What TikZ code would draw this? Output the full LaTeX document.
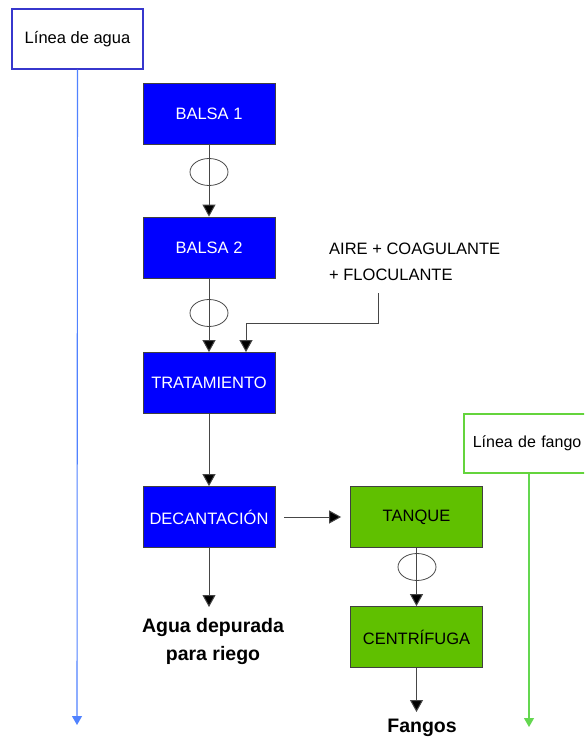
\documentclass[tikz,border=0pt]{standalone}
\usepackage{fontspec}
\setmainfont{Liberation Sans}
\usetikzlibrary{arrows.meta,shapes.geometric}
\definecolor{bluefill}{RGB}{0,0,255}
\definecolor{greenfill}{RGB}{96,192,0}
\definecolor{aguaborder}{RGB}{55,55,205}
\definecolor{agualine}{RGB}{80,130,255}
\definecolor{fangoborder}{RGB}{100,212,60}
\definecolor{fangoline}{RGB}{100,215,80}
\definecolor{conn}{RGB}{70,70,70}
\tikzset{
  procbox/.style={rectangle, draw=black!75, line width=0.8pt, minimum width=132pt, minimum height=61pt, inner sep=0pt, font=\fontsize{16.5}{19}\selectfont},
  bluebox/.style={procbox, fill=bluefill, text=white},
  greenbox/.style={procbox, fill=greenfill, text=black},
  valve/.style={ellipse, draw=black!70, line width=0.8pt, minimum width=38pt, minimum height=27pt, inner sep=0pt},
  arr/.style={draw=conn, line width=1pt, -{Triangle[width=13pt,length=12pt,fill=black]}},
  outlabel/.style={font=\bfseries\fontsize{19.5}{28}\selectfont, align=center, inner sep=0pt},
}
\begin{document}
\begin{tikzpicture}[x=1pt,y=-1pt]
\useasboundingbox (0,0) rectangle (584,738);
\clip (0,0) rectangle (584,738);
\fill[white] (0,0) rectangle (584,738);

% Linea de agua
\node[draw=aguaborder, line width=1.4pt, minimum width=131pt, minimum height=60pt, inner sep=0pt, font=\fontsize{16.5}{19}\selectfont] (agua) at (77.5,39) {Línea de agua};
\coordinate (aguaend) at (77,725);
\draw[agualine, line width=1.1pt, -{Triangle[width=10pt,length=9pt]}] (agua.south) -- (aguaend);

% Blue process boxes
\node[bluebox] (b1) at (209,113.5) {BALSA 1};
\node[bluebox] (b2) at (209,247.5) {BALSA 2};
\node[bluebox] (trat) at (209,383) {TRATAMIENTO};
\node[bluebox] (dec) at (209,517) {DECANTACIÓN};

% Green boxes
\node[greenbox] (tanq) at (416.5,517) {TANQUE};
\node[greenbox] (cent) at (416.5,637) {CENTRÍFUGA};

% valves
\node[valve] (v1) at (209,172) {};
\node[valve] (v2) at (209,313) {};
\node[valve] (v3) at (417,567) {};

% connectors
\draw[arr] (b1.south) -- (b2.north);
\draw[arr] (b2.south) -- (trat.north);
\draw[arr] (trat.south) -- (dec.north);
\draw[arr] (tanq.south) -- (cent.north);
\draw[arr, shorten <=9pt, shorten >=9pt] (dec.east) -- (tanq.west);

% aire + coagulante
\node[anchor=north west, align=left, inner sep=0pt, font=\fontsize{16.5}{26}\selectfont] (aire) at (329,243) {AIRE + COAGULANTE\\+ FLOCULANTE};
\coordinate (aireb) at (378,293);
\coordinate (bend) at (246,323);
\draw[arr] (aireb) |- (bend) -- (bend |- trat.north);

% outputs
\node[outlabel, anchor=north] (depur) at (213,618) {Agua depurada\\para riego};
\draw[arr, shorten >=11pt] (dec.south) -- (dec.south |- depur.north);
\node[outlabel, anchor=north] (fangos) at (422,719) {Fangos};
\draw[arr, shorten >=7pt] (cent.south) -- (cent.south |- fangos.north);

% Linea de fango
\node[draw=fangoborder, line width=1.6pt, anchor=north west, text width=120pt, inner xsep=9pt, inner ysep=0pt, minimum height=59pt, align=left, font=\fontsize{16}{19}\selectfont] (fango) at (463,413) {Línea de fango};
\coordinate (fangoend) at (529,727);
\draw[fangoline, line width=1.1pt, -{Triangle[width=10pt,length=9pt]}] (fango.south -| fangoend) -- (fangoend);
\end{tikzpicture}
\end{document}
